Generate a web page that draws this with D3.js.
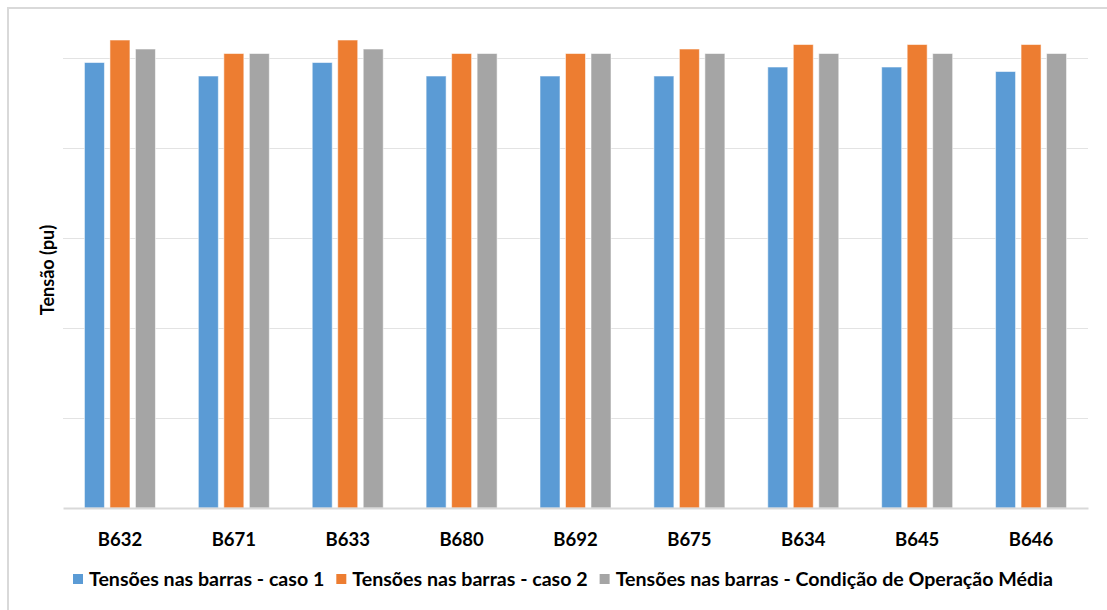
<!DOCTYPE html>
<html>
<head>
<meta charset="utf-8">
<script src="https://cdn.jsdelivr.net/npm/d3@7"></script>
<style>
  html, body { margin: 0; padding: 0; background: #fff; }
  svg { display: block; }
  text { font-family: Lato, "Open Sans", sans-serif; font-weight: bold; fill: #000; }
</style>
</head>
<body>
<svg id="chart" width="1107" height="610"></svg>
<script>
const categories = ["B632", "B671", "B633", "B680", "B692", "B675", "B634", "B645", "B646"];
const seriesNames = [
  "Tensões nas barras - caso 1",
  "Tensões nas barras - caso 2",
  "Tensões nas barras - Condição de Operação Média"
];
const caso1 = [0.99, 0.96, 0.99, 0.96, 0.96, 0.96, 0.98, 0.98, 0.97];
const caso2 = [1.04, 1.01, 1.04, 1.01, 1.01, 1.02, 1.03, 1.03, 1.03];
const media = [1.02, 1.01, 1.02, 1.01, 1.01, 1.01, 1.01, 1.01, 1.01];
const yTicks = [0, 0.2, 0.4, 0.6, 0.8, 1.0];
const yTitle = "Tensão (pu)";
const colors = ["#5b9bd5", "#ed7d31", "#a5a5a5"];

const seriesValues = [caso1, caso2, media];
const svg = d3.select("#chart");

// chart border
svg.append("rect")
  .attr("x", 8).attr("y", 8).attr("width", 1200).attr("height", 700)
  .attr("fill", "none").attr("stroke", "#d9d9d9").attr("stroke-width", 2);

const plot = { left: 63, right: 1088, top: 28, bottom: 508 };

const x0 = d3.scaleBand().domain(categories).range([plot.left, plot.right]).paddingInner(0).paddingOuter(0);
const x1 = d3.scaleBand().domain(d3.range(3)).range([0, x0.bandwidth()]).paddingInner(0.2157).paddingOuter(0.841);
const y = d3.scaleLinear().domain([0, 1.0667]).range([plot.bottom, plot.top]);

// gridlines
svg.append("g").selectAll("line").data(yTicks.filter(t => t > 0)).join("line")
  .attr("x1", plot.left).attr("x2", plot.right)
  .attr("y1", d => Math.round(y(d)) + 0.5).attr("y2", d => Math.round(y(d)) + 0.5)
  .attr("stroke", "#e3e3e3").attr("stroke-width", 1);

// bars
const groups = svg.append("g").selectAll("g").data(categories).join("g")
  .attr("transform", d => `translate(${x0(d)},0)`);
groups.selectAll("rect").data((c, i) => seriesValues.map((vals, s) => ({ s, v: vals[i] }))).join("rect")
  .attr("x", d => x1(d.s))
  .attr("width", x1.bandwidth())
  .attr("y", d => y(d.v))
  .attr("height", d => y(0) - y(d.v))
  .attr("fill", d => colors[d.s])
  .attr("stroke", "#ffffff").attr("stroke-opacity", 0.55).attr("stroke-width", 1);

// baseline (x axis)
const xAxis = d3.axisBottom(x0).tickSize(0).tickPadding(0);
const gx = svg.append("g").attr("transform", `translate(0,${plot.bottom})`).call(xAxis);
gx.select(".domain").attr("stroke", "#d9d9d9").attr("stroke-width", 2);
gx.selectAll("text")
  .attr("y", 38).attr("dy", 0)
  .style("font-size", "18.5px").style("font-family", "Lato, 'Open Sans', sans-serif")
  .style("font-weight", "bold").attr("fill", "#000");

// y title
svg.append("text")
  .attr("transform", "translate(54,270) rotate(-90)")
  .attr("text-anchor", "middle")
  .style("font-size", "18px")
  .text(yTitle);

// legend
const legend = svg.append("g");
const fs = 19.6;
const items = seriesNames.map((name, i) => {
  const g = legend.append("g");
  g.append("rect").attr("width", 10).attr("height", 10).attr("y", -11).attr("fill", colors[i]);
  const t = g.append("text").attr("x", 16).attr("y", 0).attr("dy", "0.05em")
    .style("font-size", fs + "px").text(name);
  return { g, w: 16 + t.node().getComputedTextLength() };
});
const gap = 12;
const total = d3.sum(items, d => d.w) + gap * (items.length - 1);
let lx = 563 - total / 2;
items.forEach(it => {
  it.g.attr("transform", `translate(${lx},585)`);
  lx += it.w + gap;
});
</script>
</body>
</html>
